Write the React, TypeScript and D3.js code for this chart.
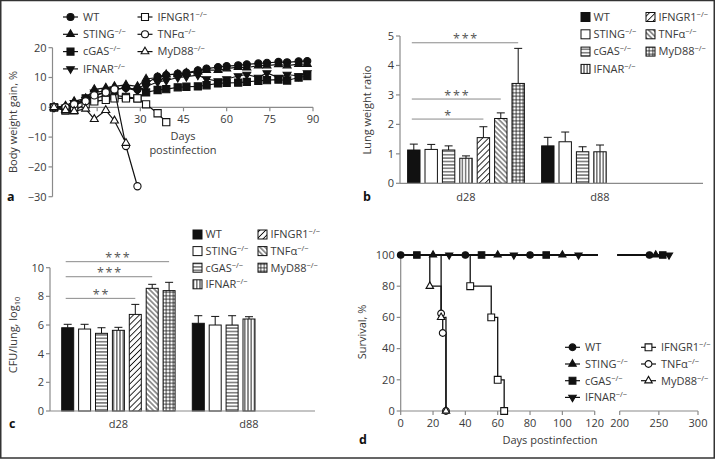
import React from "react";
import * as d3 from "d3";

const FONT = "'Open Sans', 'Noto Sans', 'DejaVu Sans', sans-serif";
const TXT = "#3a3a3a";
const AX = "#8a8a8a";
const INK = "#111";

// ---------- shared categories ----------
const genotypes = ["WT", "STING", "cGAS", "IFNAR", "IFNGR1", "TNFα", "MyD88"];
const isKnockout = [false, true, true, true, true, true, true];
const timepoints = ["d28", "d88"];
const symbolKinds = ["circle", "triangle", "square", "triangleDown", "square", "circle", "triangle"];
const symbolOpen = [false, false, false, false, true, true, true];
const barFills = ["#111", "#fff", "url(#pH)", "url(#pV)", "url(#pD1)", "url(#pD2)", "url(#pG)"];

// ---------- panel a: body weight gain ----------
const daysA = [0, 4, 7, 11, 14, 18, 21, 25, 29, 32, 36, 39, 43, 46, 50, 53, 57, 60, 64, 67, 71, 74, 78, 81, 85, 88];
const weightWT = [0, 0, 1, 2, 4, 5, 6, 6.5, 6, 8, 10.3, 10.8, 11.3, 11.6, 12.4, 13, 13.5, 13.8, 14.1, 14.4, 14.7, 14.9, 15.2, 15.1, 15.4, 15.5];
const weightSTING = [0, 0.5, 2, 3, 6, 6.5, 7, 7.5, 7, 9.5, 10, 11, 11, 11.5, 12, 12.5, 12.5, 13, 13.5, 13.3, 14, 14, 14.4, 14, 14.5, 14.5];
const weightCGAS = [0, -1, 1, 3, 3, 4, 4, 3.5, 3, 5, 5.8, 6.1, 6.7, 6.9, 7, 7.4, 8, 8.2, 8.3, 8.5, 8.9, 9.1, 9.3, 9, 10, 10.5];
const weightIFNAR = [0, 0, 1.5, 2.5, 5, 5.5, 6, 6.5, 5.5, 7, 8.5, 9, 10, 10.3, 10.8, 9.5, 8.8, 9.5, 10.5, 11, 10, 11.5, 10, 11, 10.5, 11.5];
const weightIFNGR1 = [0, -1, -1, 1, 2, 2.5, 3, 3, 3, 1, -2, -5];
const weightTNF = [0, 0, 1, 2, 4, 5, 6, -13, -26.5];
const weightMyD88 = [0, -1, -1.3, -0.5, -4, -1, -4.5, -12];
const weightSeries = [weightWT, weightSTING, weightCGAS, weightIFNAR, weightIFNGR1, weightTNF, weightMyD88];
const ticksA_y = [-30, -20, -10, 0, 10, 20];
const ticksA_x = [15, 30, 45, 60, 75, 90];
const labelsA_x = [30, 45, 60, 75, 90];

// ---------- panel b: lung weight ratio ----------
const lungD28 = [1.13, 1.15, 1.13, 0.85, 1.55, 2.2, 3.39];
const lungD28Err = [0.2, 0.17, 0.14, 0.08, 0.37, 0.19, 1.19];
const lungD88 = [1.27, 1.41, 1.07, 1.07];
const lungD88Err = [0.29, 0.33, 0.17, 0.23];
const ticksB = [0, 1, 2, 3, 4, 5];
const sigB_target = ["IFNGR1", "TNFα", "MyD88"];
const sigB_level = [2.18, 2.86, 4.77];
const sigB_text = ["*", "***", "***"];

// ---------- panel c: CFU ----------
const cfuD28 = [5.81, 5.72, 5.42, 5.63, 6.74, 8.56, 8.4];
const cfuD28Err = [0.24, 0.33, 0.39, 0.21, 0.7, 0.28, 0.58];
const cfuD88 = [6.12, 6.0, 6.0, 6.42];
const cfuD88Err = [0.53, 0.6, 0.65, 0.16];
const ticksC = [0, 2, 4, 6, 8, 10];
const sigC_target = ["IFNGR1", "TNFα", "MyD88"];
const sigC_level = [7.86, 9.37, 10.42];
const sigC_text = ["**", "***", "***"];

// ---------- panel d: survival ----------
const survMarkWT = [0, 40, 80, 238];
const survMarkSTING = [20, 60, 100, 246];
const survMarkCGAS = [10, 50, 90, 255];
const survMarkIFNAR = [30, 70, 110, 263];
const survIFNGR1_days = [0, 43, 56, 60, 64];
const survIFNGR1_pct = [100, 80, 60, 20, 0];
const survTNF_days = [0, 25, 26, 28];
const survTNF_pct = [100, 62.5, 50, 0];
const survMyD88_days = [0, 18, 25, 28];
const survMyD88_pct = [100, 80, 60, 0];
const seg1Days = [0, 122];
const seg2Start = 197;
const ticksD_y = [0, 20, 40, 60, 80, 100];
const ticksD_x1 = [0, 20, 40, 60, 80, 100, 120];
const ticksD_x2 = [200, 250, 300];

// ---------- helpers ----------
function Marker({ kind, open, x, y, base }: any) {
  const b = base ?? 7;
  const t = kind === "circle" ? d3.symbolCircle : kind === "square" ? d3.symbolSquare : d3.symbolTriangle;
  const area = kind === "circle" ? Math.PI * (b / 2) * (b / 2) : kind === "square" ? b * b : (Math.sqrt(3) / 4) * (b * 1.1) * (b * 1.1);
  const p = d3.symbol(t, area)() as string;
  const rot = kind === "triangleDown" ? " rotate(180)" : "";
  return (
    <path d={p} transform={`translate(${x},${y})${rot}`} fill={open ? "#fff" : INK} stroke={INK} strokeWidth={1.1} />
  );
}

function GLabel({ i, x, y }: any) {
  return (
    <text x={x} y={y} dy="0.35em" fontSize={11} fill={TXT} fontFamily={FONT}>
      {genotypes[i]}
      {isKnockout[i] && (
        <tspan dy={-4} fontSize={7.5}>
          −/−
        </tspan>
      )}
    </text>
  );
}

function YAxis({ x, scale, ticks }: any) {
  const [r0, r1] = scale.range();
  return (
    <g fontFamily={FONT} fill={TXT} fontSize={11}>
      <line x1={x} x2={x} y1={r0} y2={r1} stroke={AX} strokeWidth={1.2} />
      {ticks.map((t: number) => (
        <g key={t}>
          <line x1={x - 4} x2={x} y1={scale(t)} y2={scale(t)} stroke={AX} strokeWidth={1.2} />
          <text x={x - 6} y={scale(t)} dy="0.35em" textAnchor="end">
            {t < 0 ? "−" + Math.abs(t) : t}
          </text>
        </g>
      ))}
    </g>
  );
}

function BarPanel({ yScale, outer, inner, d28, d28e, d88, d88e, axisX, axisEnd, ticks, sigTarget, sigLevel, sigText, labelY }: any) {
  const series = [
    { g: "d28", v: d28, e: d28e },
    { g: "d88", v: d88, e: d88e },
  ];
  const bw = inner.bandwidth();
  const y0 = yScale(0);
  const wtCenter = outer("d28") + inner("WT") + bw / 2;
  return (
    <g>
      <YAxis x={axisX} scale={yScale} ticks={ticks} />
      {series.map((s) =>
        s.v.map((v: number, i: number) => {
          const x = outer(s.g) + inner(genotypes[i]);
          const cx = x + bw / 2;
          const top = yScale(v);
          const et = yScale(v + s.e[i]);
          return (
            <g key={s.g + i}>
              <line x1={cx} x2={cx} y1={top} y2={et} stroke={INK} strokeWidth={1} />
              <line x1={cx - 4} x2={cx + 4} y1={et} y2={et} stroke={INK} strokeWidth={1} />
              <rect x={x} y={top} width={bw} height={y0 - top} fill={barFills[i]} stroke={INK} strokeWidth={1} />
            </g>
          );
        })
      )}
      <line x1={axisX} x2={axisEnd} y1={y0} y2={y0} stroke={AX} strokeWidth={1.2} />
      {timepoints.map((g) => (
        <text key={g} x={outer(g) + (inner.range()[0] + inner.range()[1]) / 2} y={labelY} textAnchor="middle" fontSize={11} fill={TXT} fontFamily={FONT}>
          {g}
        </text>
      ))}
      {sigTarget.map((t: string, k: number) => {
        const x2 = outer("d28") + inner(t) + bw / 2;
        const ly = yScale(sigLevel[k]);
        return (
          <g key={t}>
            <line x1={wtCenter - 2} x2={x2} y1={ly} y2={ly} stroke="#8a8a8a" strokeWidth={1} />
            <text x={(wtCenter + x2) / 2} y={ly + 0.5} textAnchor="middle" fontSize={12.5} letterSpacing={1.8} fill="#555" fontFamily={FONT}>
              {sigText[k]}
            </text>
          </g>
        );
      })}
    </g>
  );
}

function BarLegend({ x1, x2, y0, dy }: any) {
  return (
    <g>
      {genotypes.map((g, i) => {
        const col = i < 4 ? 0 : 1;
        const row = i < 4 ? i : i - 4;
        const x = col === 0 ? x1 : x2;
        const y = y0 + row * dy;
        return (
          <g key={g}>
            <rect x={x} y={y - 4.5} width={9} height={9} fill={barFills[i]} stroke={INK} strokeWidth={1} />
            <GLabel i={i} x={x + 12.5} y={y} />
          </g>
        );
      })}
    </g>
  );
}

function LineLegend({ x1, x2, y0, dy, base }: any) {
  return (
    <g>
      {genotypes.map((g, i) => {
        const col = i < 4 ? 0 : 1;
        const row = i < 4 ? i : i - 4;
        const x = col === 0 ? x1 : x2;
        const y = y0 + row * dy;
        return (
          <g key={g}>
            <line x1={x} x2={x + 15} y1={y} y2={y} stroke={INK} strokeWidth={1.2} />
            <Marker kind={symbolKinds[i]} open={symbolOpen[i]} x={x + 7.5} y={y} base={base} />
            <GLabel i={i} x={x + 20} y={y} />
          </g>
        );
      })}
    </g>
  );
}

export default function App() {
  // panel a scales
  const xA = d3.scaleLinear().domain([0, 90]).range([54, 313]);
  const yA = d3.scaleLinear().domain([-30, 20]).range([196.7, 47.7]);
  const lineA = d3
    .line<[number, number]>()
    .x((d) => xA(d[0]))
    .y((d) => yA(d[1]));

  // panel b scales
  const yB = d3.scaleLinear().domain([0, 5]).range([183.3, 36]);
  const xBo = d3.scaleBand().domain(timepoints).range([399, 667]);
  const xBi = d3.scaleBand().domain(genotypes).range([6, 128]).paddingInner(0.287).paddingOuter(0.15);

  // panel c scales
  const yC = d3.scaleLinear().domain([0, 10]).range([411, 267.7]);
  const xCo = d3.scaleBand().domain(timepoints).range([59.25, 320.45]);
  const xCi = d3.scaleBand().domain(genotypes).range([0, 118.3]).paddingInner(0.29).paddingOuter(0.145);

  // panel d scales
  const yD = d3.scaleLinear().domain([0, 100]).range([411, 255]);
  const xD1 = d3.scaleLinear().domain([0, 120]).range([400.7, 594.7]);
  const xD2 = d3.scaleLinear().domain([200, 300]).range([619.7, 698]);
  const xD = (d: number) => (d <= 160 ? xD1(d) : xD2(d));
  const lineD = d3
    .line<[number, number]>()
    .x((d) => xD(d[0]))
    .y((d) => yD(d[1]))
    .curve(d3.curveStepAfter);

  const fullMarks = [survMarkWT, survMarkSTING, survMarkCGAS, survMarkIFNAR];
  const deadSeries = [
    { i: 4, days: survIFNGR1_days, pct: survIFNGR1_pct },
    { i: 5, days: survTNF_days, pct: survTNF_pct },
    { i: 6, days: survMyD88_days, pct: survMyD88_pct },
  ];

  return (
    <svg width={716} height={459} style={{ position: "absolute", left: 0, top: 0, background: "#fff" }} fontFamily={FONT}>
      <defs>
        <pattern id="pH" patternUnits="userSpaceOnUse" width={6} height={3.4}>
          <rect width={6} height={3.4} fill="#fff" />
          <line x1={0} x2={6} y1={1.7} y2={1.7} stroke={INK} strokeWidth={0.9} />
        </pattern>
        <pattern id="pV" patternUnits="userSpaceOnUse" width={3.2} height={6}>
          <rect width={3.2} height={6} fill="#fff" />
          <line x1={1.6} x2={1.6} y1={0} y2={6} stroke={INK} strokeWidth={0.9} />
        </pattern>
        <pattern id="pD1" patternUnits="userSpaceOnUse" width={4.2} height={6} patternTransform="rotate(45)">
          <rect width={4.2} height={6} fill="#fff" />
          <line x1={2.1} x2={2.1} y1={0} y2={6} stroke={INK} strokeWidth={0.9} />
        </pattern>
        <pattern id="pD2" patternUnits="userSpaceOnUse" width={3.6} height={6} patternTransform="rotate(-45)">
          <rect width={3.6} height={6} fill="#fff" />
          <line x1={1.8} x2={1.8} y1={0} y2={6} stroke={INK} strokeWidth={0.9} />
        </pattern>
        <pattern id="pG" patternUnits="userSpaceOnUse" width={3.5} height={3.5}>
          <rect width={3.5} height={3.5} fill="#fff" />
          <line x1={0} x2={3.5} y1={1.75} y2={1.75} stroke={INK} strokeWidth={0.8} />
          <line x1={1.75} x2={1.75} y1={0} y2={3.5} stroke={INK} strokeWidth={0.8} />
        </pattern>
      </defs>
      <rect x={0.75} y={0.5} width={713.5} height={457.5} fill="#fff" stroke="#333" strokeWidth={1.5} />

      {/* ================= panel a ================= */}
      <g>
        <YAxis x={52.5} scale={yA} ticks={ticksA_y} />
        <line x1={52.5} x2={xA(90)} y1={yA(0)} y2={yA(0)} stroke={AX} strokeWidth={1.2} />
        {ticksA_x.map((t) => (
          <line key={t} x1={xA(t)} x2={xA(t)} y1={yA(0)} y2={yA(0) + 4} stroke={AX} strokeWidth={1.2} />
        ))}
        {labelsA_x.map((t) => (
          <text key={t} x={xA(t)} y={yA(0) + 15.5} textAnchor="middle" fontSize={11} fill={TXT}>
            {t}
          </text>
        ))}
        <text x={183} y={139.5} textAnchor="middle" fontSize={11} fill={TXT}>
          Days
        </text>
        <text x={183} y={153.5} textAnchor="middle" fontSize={11} fill={TXT}>
          postinfection
        </text>
        <text transform="translate(17,122) rotate(-90)" textAnchor="middle" fontSize={11} fill={TXT}>
          Body weight gain, %
        </text>
        {weightSeries.map((vals, i) => {
          const pts = vals.map((v, k) => [daysA[k], v] as [number, number]);
          return (
            <g key={i}>
              <path d={lineA(pts) as string} fill="none" stroke={INK} strokeWidth={1.2} />
              {pts.map((p, k) => (
                <Marker key={k} kind={symbolKinds[i]} open={symbolOpen[i]} x={xA(p[0])} y={yA(p[1])} base={7.2} />
              ))}
            </g>
          );
        })}
        <LineLegend x1={63} x2={137.5} y0={17} dy={17.3} base={7} />
        <text x={7} y={201} fontSize={12.5} fontWeight="bold" fill="#111">
          a
        </text>
      </g>

      {/* ================= panel b ================= */}
      <g>
        <BarPanel
          yScale={yB}
          outer={xBo}
          inner={xBi}
          d28={lungD28}
          d28e={lungD28Err}
          d88={lungD88}
          d88e={lungD88Err}
          axisX={400}
          axisEnd={703}
          ticks={ticksB}
          sigTarget={sigB_target}
          sigLevel={sigB_level}
          sigText={sigB_text}
          labelY={201}
        />
        <text transform="translate(371,110) rotate(-90)" textAnchor="middle" fontSize={11} fill={TXT}>
          Lung weight ratio
        </text>
        <BarLegend x1={581} x2={646} y0={17} dy={17.3} />
        <text x={363} y={201} fontSize={12.5} fontWeight="bold" fill="#111">
          b
        </text>
      </g>

      {/* ================= panel c ================= */}
      <g>
        <BarPanel
          yScale={yC}
          outer={xCo}
          inner={xCi}
          d28={cfuD28}
          d28e={cfuD28Err}
          d88={cfuD88}
          d88e={cfuD88Err}
          axisX={50}
          axisEnd={315}
          ticks={ticksC}
          sigTarget={sigC_target}
          sigLevel={sigC_level}
          sigText={sigC_text}
          labelY={428}
        />
        <text transform="translate(17,335) rotate(-90)" textAnchor="middle" fontSize={11} fill={TXT}>
          CFU/lung, log
          <tspan dy={3} fontSize={7.5}>
            10
          </tspan>
        </text>
        <BarLegend x1={193} x2={258} y0={234.5} dy={16.6} />
        <text x={9} y={428} fontSize={12.5} fontWeight="bold" fill="#111">
          c
        </text>
      </g>

      {/* ================= panel d ================= */}
      <g>
        <YAxis x={400.7} scale={yD} ticks={ticksD_y} />
        <line x1={xD1(0)} x2={xD1(120)} y1={yD(0)} y2={yD(0)} stroke={AX} strokeWidth={1.2} />
        <line x1={xD2(200)} x2={xD2(300)} y1={yD(0)} y2={yD(0)} stroke={AX} strokeWidth={1.2} />
        {ticksD_x1.map((t) => (
          <g key={t}>
            <line x1={xD1(t)} x2={xD1(t)} y1={yD(0)} y2={yD(0) + 4} stroke={AX} strokeWidth={1.2} />
            <text x={xD1(t)} y={yD(0) + 16} textAnchor="middle" fontSize={11} fill={TXT}>
              {t}
            </text>
          </g>
        ))}
        {ticksD_x2.map((t) => (
          <g key={t}>
            <line x1={xD2(t)} x2={xD2(t)} y1={yD(0)} y2={yD(0) + 4} stroke={AX} strokeWidth={1.2} />
            <text x={xD2(t)} y={yD(0) + 16} textAnchor="middle" fontSize={11} fill={TXT}>
              {t}
            </text>
          </g>
        ))}
        <text x={550} y={444} textAnchor="middle" fontSize={11} fill={TXT}>
          Days postinfection
        </text>
        <text transform="translate(366,332) rotate(-90)" textAnchor="middle" fontSize={11} fill={TXT}>
          Survival, %
        </text>
        {deadSeries.map((s) => {
          const pts = s.days.map((d, k) => [d, s.pct[k]] as [number, number]);
          return <path key={s.i} d={lineD(pts) as string} fill="none" stroke={INK} strokeWidth={1.3} />;
        })}
        {fullMarks.map((marks, i) => (
          <g key={i}>
            <path d={lineD(seg1Days.map((d) => [d, 100] as [number, number])) as string} fill="none" stroke={INK} strokeWidth={1.3} />
            <path d={lineD([[seg2Start, 100], [marks[marks.length - 1], 100]]) as string} fill="none" stroke={INK} strokeWidth={1.3} />
          </g>
        ))}
        {fullMarks.map((marks, i) =>
          marks.map((d) => <Marker key={i + "-" + d} kind={symbolKinds[i]} open={false} x={xD(d)} y={yD(100)} base={6.5} />)
        )}
        {deadSeries.map((s) =>
          s.days.slice(1).map((d, k) => (
            <Marker key={s.i + "-" + k} kind={symbolKinds[s.i]} open={true} x={xD(d)} y={yD(s.pct[k + 1])} base={6.8} />
          ))
        )}
        <LineLegend x1={565} x2={641} y0={347.3} dy={16.7} base={6.8} />
        <text x={359} y={444} fontSize={12.5} fontWeight="bold" fill="#111">
          d
        </text>
      </g>
    </svg>
  );
}
